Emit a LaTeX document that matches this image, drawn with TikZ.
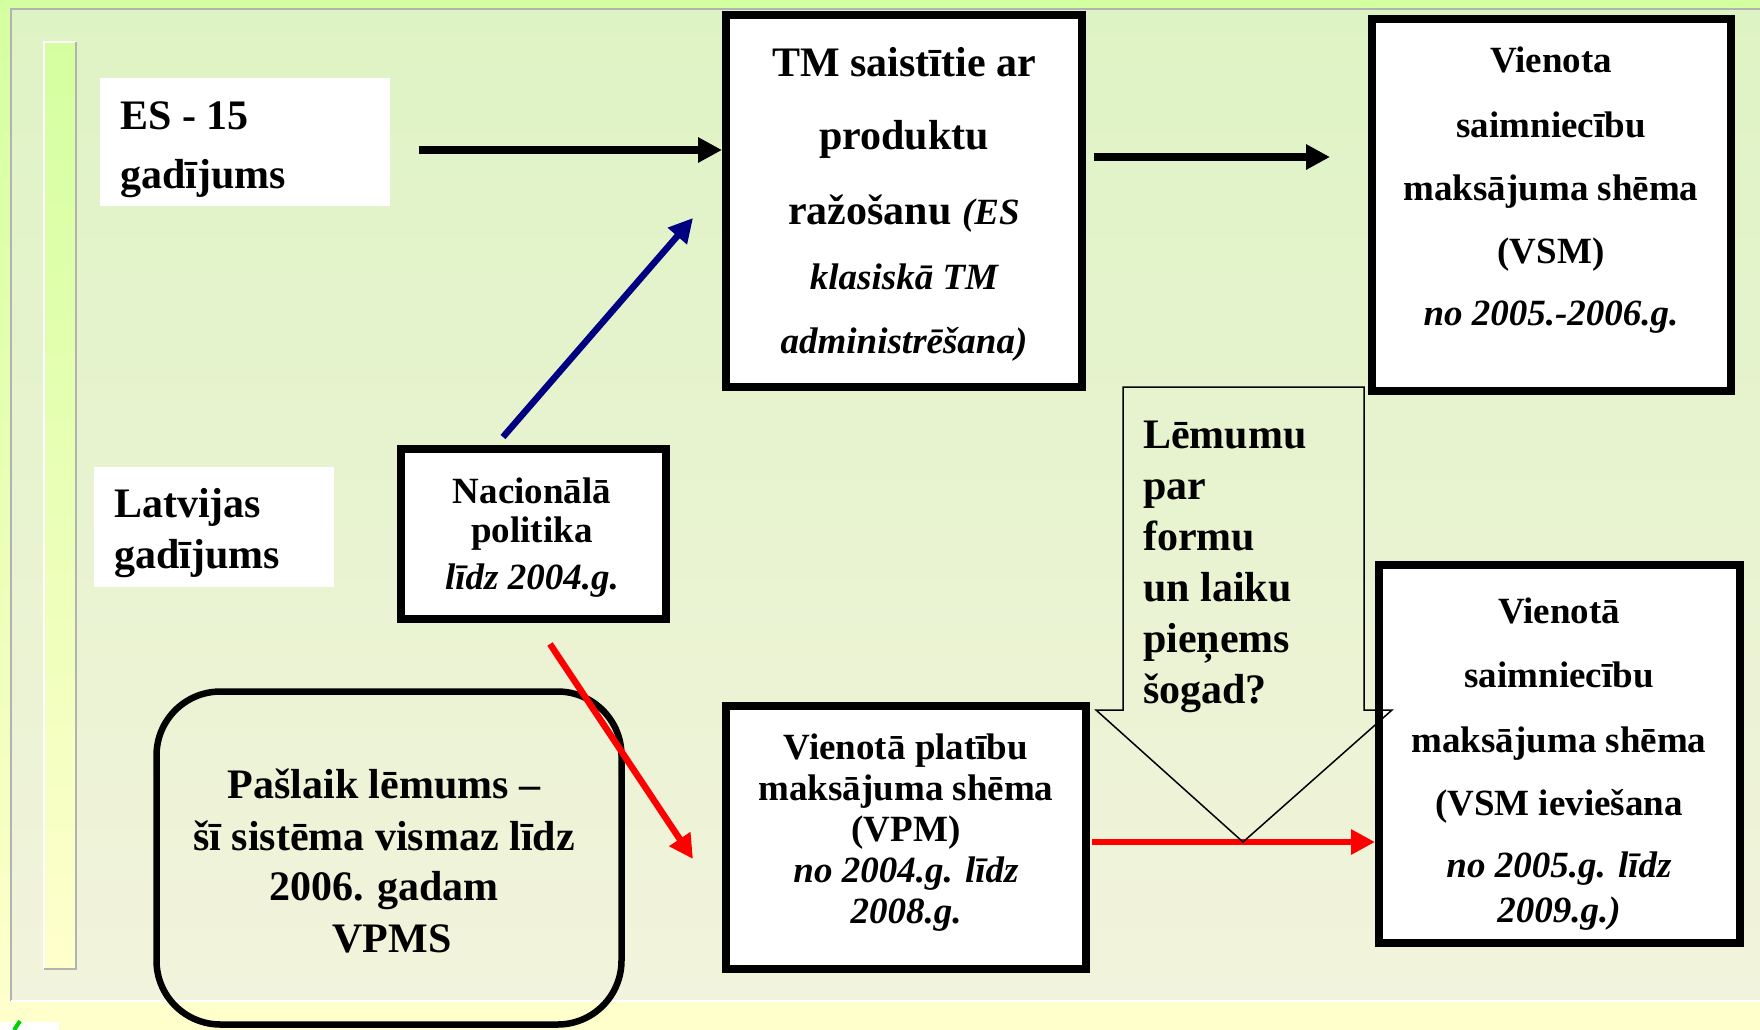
\documentclass[tikz,border=0pt]{standalone}
\usepackage{fontspec}
\setmainfont{Liberation Serif}
\usetikzlibrary{arrows.meta}
\definecolor{outtop}{RGB}{212,255,160}
\definecolor{outbot}{RGB}{255,255,204}
\definecolor{pantop}{RGB}{222,243,196}
\definecolor{panbot}{RGB}{242,243,220}
\definecolor{edgegray}{RGB}{178,178,178}
\definecolor{navyblue}{RGB}{0,0,128}
\definecolor{markgreen}{RGB}{0,210,0}
\newcommand{\smallit}[1]{{\fontsize{37pt}{44pt}\selectfont\itshape #1}}
\begin{document}
\begin{tikzpicture}[x=1pt,y=-1pt,
  box/.style={draw=black,line width=8pt,fill=white,inner sep=0pt},
  wbox/.style={fill=white,inner sep=0pt},
  tl/.style={font=\fontsize{42pt}{50pt}\selectfont\bfseries,anchor=base,inner sep=0pt},
  ts/.style={font=\fontsize{37pt}{44pt}\selectfont\bfseries,anchor=base,inner sep=0pt},
  arr/.style={line width=8pt,-{Triangle[length=24pt,width=24pt]}},
  thinarr/.style={line width=6.5pt,-{Triangle[length=24pt,width=24pt]}}
]
\useasboundingbox (0,0) rectangle (1760,1029);
% background
\shade[top color=outtop,bottom color=outbot] (0,0) rectangle (1760,1029);
\shade[top color=pantop,bottom color=panbot] (11,9) rectangle (1770,1001);
\draw[edgegray,line width=2pt] (11,1001) -- (11,9) -- (1770,9);
\draw[white,line width=2pt] (11,1001) -- (1770,1001);
% left bar
\shade[top color=outtop,bottom color=outbot] (44,42) rectangle (76,969);
\draw[white,line width=2pt] (44,969) -- (44,42) -- (76,42);
\draw[edgegray,line width=2pt] (76,42) -- (76,969) -- (44,969);
% small mark bottom left
\fill[white] (0,1022) rectangle (59,1030);
\draw[markgreen,line width=4pt] (14,1030) -- (20,1021);

% label boxes
\node[wbox,minimum width=290pt,minimum height=128pt] (es) at (245,142) {};
\node[wbox,minimum width=240pt,minimum height=120pt] (lv) at (214,527) {};

% rounded box
\node[draw=black,line width=6.5pt,rounded corners=64pt,minimum width=465pt,minimum height=333pt,inner sep=0pt] (pas) at (389,858) {};

% boxes
\node[box,minimum width=356pt,minimum height=372pt] (tm) at (904,201) {};
\node[box,minimum width=359pt,minimum height=372pt] (vsmt) at (1551.5,205) {};
\node[box,minimum width=265pt,minimum height=170pt] (nac) at (533.5,534) {};
\node[box,minimum width=360pt,minimum height=263pt] (vpm) at (906,837.5) {};
\node[box,minimum width=361pt,minimum height=378pt] (vsmb) at (1559.5,754) {};

% arrows
\coordinate (a1s) at (419,150);
\draw[arr] (a1s) -- (a1s -| tm.west);
\coordinate (a2s) at (1094,157);
\coordinate (a2e) at (1330,157);
\draw[arr] (a2s) -- (a2e);
\coordinate (b1) at (503,437);
\coordinate (b2) at (693,218);
\draw[thinarr,navyblue] (b1) -- (b2);
\coordinate (r1) at (550,644);
\coordinate (r2) at (693,859);
\draw[thinarr,red] (r1) -- (r2);
\coordinate (rh) at (1092,842);
\draw[thinarr,red] (rh) -- (rh -| vsmb.west);

% big down arrow (outline only)
\draw[line width=1.5pt,line join=miter] (1123,387) -- (1364,387) -- (1364,710) -- (1392,710) -- (1243,842) -- (1096,710) -- (1123,710) -- cycle;

% texts
\node[tl,anchor=base west] (es1) at (120,129) {ES - 15};
\node[tl,anchor=base west] (es2) at (120,188) {gadījums};
\node[tl,anchor=base west] (lv1) at (114,517) {Latvijas};
\node[tl,anchor=base west] (lv2) at (114,568) {gadījums};

\node[tl] (tm1) at (904,76) {TM saistītie ar};
\node[tl] (tm2) at (904,149) {produktu};
\node[tl] (tm3) at (904,224) {ražošanu \smallit{(ES}};
\node[tl] (tm4) at (904,289) {\smallit{klasiskā TM}};
\node[tl] (tm5) at (904,353) {\smallit{administrēšana)}};

\node[ts] (vt1) at (1551,72) {Vienota};
\node[ts] (vt2) at (1551,137) {saimniecību};
\node[ts] (vt3) at (1551,200) {maksājuma shēma};
\node[ts] (vt4) at (1551,263) {(VSM)};
\node[ts] (vt5) at (1551,325) {\textit{no 2005.-2006.g.}};

\node[ts] (n1) at (532,503) {Nacionālā};
\node[ts] (n2) at (532,542) {politika};
\node[ts] (n3) at (532,589) {\textit{līdz 2004.g.}};

\node[tl] (p1) at (384,798) {Pašlaik lēmums –};
\node[tl] (p2) at (384,850) {šī sistēma vismaz līdz};
\node[tl] (p3) at (384,900) {2006. gadam};
\node[tl] (p4) at (392,952) {VPMS};

\node[ts] (v1) at (906,759) {Vienotā platību};
\node[ts] (v2) at (906,800) {maksājuma shēma};
\node[ts] (v3) at (906,841) {(VPM)};
\node[ts] (v4) at (906,882) {\textit{no 2004.g. līdz}};
\node[ts] (v5) at (906,923) {\textit{2008.g.}};

\node[ts] (vb1) at (1559,623) {Vienotā};
\node[ts] (vb2) at (1559,687) {saimniecību};
\node[ts] (vb3) at (1559,752) {maksājuma shēma};
\node[ts] (vb4) at (1559,815) {(VSM ieviešana};
\node[ts] (vb5) at (1559,877) {\textit{no 2005.g. līdz}};
\node[ts] (vb6) at (1559,922) {\textit{2009.g.)}};

\node[tl,anchor=base west] (l1) at (1143,448) {Lēmumu};
\node[tl,anchor=base west] (l2) at (1143,499) {par};
\node[tl,anchor=base west] (l3) at (1143,550) {formu};
\node[tl,anchor=base west] (l4) at (1143,601) {un laiku};
\node[tl,anchor=base west] (l5) at (1143,652) {pieņems};
\node[tl,anchor=base west] (l6) at (1143,703) {šogad?};
\end{tikzpicture}
\end{document}
